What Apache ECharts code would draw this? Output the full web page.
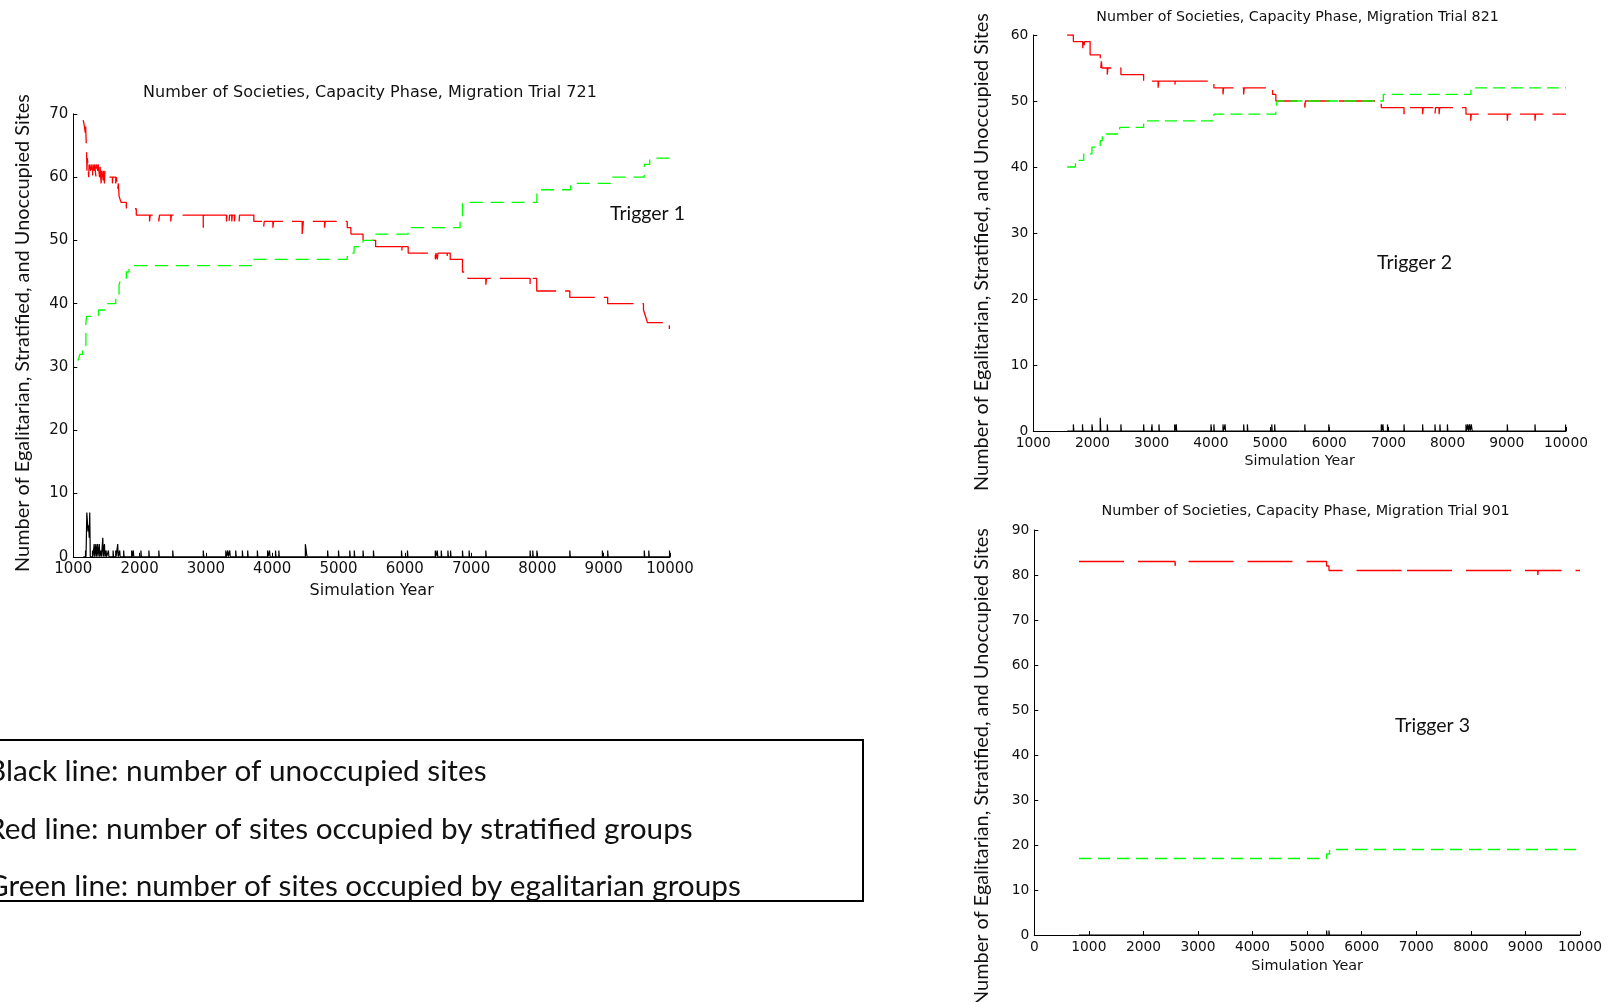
<!DOCTYPE html>
<html><head><meta charset="utf-8">
<script src="https://cdn.jsdelivr.net/npm/echarts@6.0.0/dist/echarts.min.js"></script>
<style>html,body{margin:0;padding:0;background:#fff}#c{width:1608px;height:1002px}</style>
</head><body><div id="c"></div><script>
// ---------- DATA: [year, count] change points (value holds until next point) ----------
const trial721Red = [[1150,69],[1168,68],[1180,67],[1186,68],[1200,64],[1206,61],[1212,63],[1220,62],[1232,60],[1238,62],[1262,61],[1268,62],[1290,60],[1296,62],[1316,61],[1322,62],[1342,60],[1348,62],[1370,61],[1376,62],[1396,60],[1402,62],[1420,59],[1426,61],[1446,59],[1452,61],[1470,59],[1476,61],[1490,60],[1590,59],[1596,60],[1640,59],[1650,60],[1668,58],[1680,59],[1690,57],[1720,56],[1800,55],[1950,54],[2150,53],[2160,54],[2290,53],[2300,54],[2470,53],[2480,54],[2960,52],[2972,54],[3310,53],[3318,54],[3350,53],[3358,54],[3390,53],[3398,54],[3430,53],[3438,54],[3500,53],[3508,54],[3723,53],[3870,52],[3880,53],[4010,52],[4020,53],[4452,51],[4470,53],[4790,52],[4800,53],[5132,52],[5187,51],[5370,50],[5560,49],[5950,48],[5960,49],[6051,48],[6460,47],[6470,48],[6490,47],[6500,48],[6640,47],[6650,48],[6685,47],[6870,45],[6950,44],[7222,43],[7232,44],[7890,43],[7900,44],[7990,42],[8489,41],[9060,40],[9600,39],[9630,38],[9660,37],[9990,36],[10000,36]];
const trial721Green = [[1070,31],[1100,32],[1140,33],[1190,37],[1200,38],[1380,39],[1480,40],[1640,41],[1690,43],[1720,44],[1800,45],[1840,46],[3723,47],[5132,48],[5235,49],[5370,50],[5527,51],[6051,52],[6834,53],[6870,56],[7992,58],[8502,59],[9115,60],[9612,62],[9694,63],[10000,63]];
const trial721Black = [[1150,0],[1184,1],[1192,0],[1204,7],[1222,4],[1232,5],[1240,3],[1248,7],[1256,0],[1290,1],[1296,0],[1315,2],[1322,0],[1340,2],[1347,0],[1365,2],[1372,0],[1392,2],[1399,0],[1418,1],[1425,0],[1445,3],[1452,0],[1470,2],[1477,0],[1495,1],[1502,0],[1530,1],[1537,0],[1600,1],[1607,0],[1640,1],[1646,0],[1670,2],[1677,0],[1700,1],[1706,0],[1760,1],[1766,0],[1880,1],[1888,0],[1905,1],[1912,0],[2020,1],[2027,0],[2140,1],[2147,0],[2290,1],[2297,0],[2500,1],[2507,0],[2960,1],[2968,0],[3300,1],[3308,0],[3330,1],[3337,0],[3360,1],[3367,0],[3450,1],[3457,0],[3550,1],[3557,0],[3630,1],[3637,0],[3776,1],[3783,0],[3930,1],[3937,0],[3960,1],[3967,0],[4050,1],[4057,0],[4100,1],[4107,0],[4500,2],[4525,0],[4836,1],[4843,0],[5000,1],[5007,0],[5170,1],[5177,0],[5238,1],[5245,0],[5370,1],[5377,0],[5527,1],[5534,0],[5950,1],[5957,0],[6040,1],[6047,0],[6460,1],[6467,0],[6490,1],[6497,0],[6550,1],[6557,0],[6650,1],[6657,0],[6690,1],[6697,0],[6870,1],[6877,0],[6970,1],[6977,0],[7222,1],[7229,0],[7890,1],[7897,0],[7930,1],[7937,0],[7992,1],[7999,0],[8489,1],[8496,0],[8980,1],[8987,0],[9060,1],[9067,0],[9612,1],[9619,0],[9680,1],[9687,0],[9993,1],[10000,1]];

const trial821Red = [[1572,60],[1677,59],[1835,58],[1845,59],[1855,58],[1865,59],[1960,57],[2131,56],[2140,55],[2150,56],[2160,55],[2250,54],[2260,55],[2480,54],[2864,53],[3109,52],[3119,53],[3388,52],[3398,53],[4051,52],[4205,51],[4215,52],[4554,51],[4564,52],[5043,51],[5098,50],[5587,49],[5597,50],[6879,49],[7263,48],[7273,49],[7577,48],[7587,49],[7786,48],[7796,49],[7856,48],[7866,49],[8310,48],[8390,47],[8400,48],[9008,47],[9018,48],[9476,47],[9486,48],[10000,48]];
const trial821Green = [[1572,40],[1712,41],[1852,42],[1991,43],[2131,44],[2166,45],[2459,46],[2864,47],[4051,48],[5098,49],[5119,50],[6914,51],[8394,52],[10000,52]];
const trial821Black = [[1572,0],[1677,1],[1684,0],[1831,1],[1838,0],[1991,1],[1998,0],[2131,2],[2140,0],[2250,1],[2257,0],[2480,1],[2487,0],[2864,1],[2871,0],[3004,1],[3011,0],[3123,1],[3130,0],[3388,1],[3395,0],[3415,1],[3422,0],[4002,1],[4009,0],[4051,1],[4058,0],[4205,1],[4212,0],[4240,1],[4247,0],[4554,1],[4561,0],[4617,1],[4624,0],[5029,1],[5036,0],[5078,1],[5085,0],[5587,1],[5594,0],[5992,1],[5999,0],[6879,1],[6886,0],[6907,1],[6914,0],[6984,1],[6991,0],[7263,1],[7270,0],[7577,1],[7584,0],[7786,1],[7793,0],[7870,1],[7877,0],[7996,1],[8003,0],[8310,1],[8318,0],[8340,1],[8350,0],[8370,1],[8380,0],[8400,1],[8415,0],[9008,1],[9015,0],[9476,1],[9483,0],[9993,1],[10000,1]];

const trial901Red = [[819,83],[2580,82],[2590,83],[5356,82],[5400,81],[6813,80],[6823,81],[9226,80],[9236,81],[10000,81]];
const trial901Green = [[819,17],[5356,18],[5410,19],[10000,19]];
const trial901Black = [[819,0],[5356,1],[5363,0],[5400,1],[5407,0],[10000,0]];

// ---------- TEXT ----------
const titles = ['Number of Societies, Capacity Phase, Migration Trial 721','Number of Societies, Capacity Phase, Migration Trial 821','Number of Societies, Capacity Phase, Migration Trial 901'];
const xName = 'Simulation Year';
const yName = 'Number of Egalitarian, Stratified, and Unoccupied Sites';
const triggers = ['Trigger 1','Trigger 2','Trigger 3'];
const legendLines = ['Black line: number of unoccupied sites','Red line: number of sites occupied by stratified groups','Green line: number of sites occupied by egalitarian groups'];
const xRanges = [[1000,10000],[1000,10000],[0,10000]];
const yMax = [70,60,90];

// ---------- LAYOUT ----------
const mctx = document.createElement('canvas').getContext('2d');
function fitSize(text, family, width){ mctx.font = '100px ' + family; return 100*width/mctx.measureText(text).width; }

const grids = [
  {left:73.3, top:113.8, width:596.7, height:443},
  {left:1033.3, top:35, width:532.7, height:396},
  {left:1034.3, top:530, width:545.7, height:405}
];
const tickFont = [15,13.8,13.8];
const nameFont = [16,14.2,14.4];
const nameGap = [26,23,24];
const plain = v => String(v);

const xAxes = grids.map((g,i)=>({
  type:'value', gridIndex:i, min:xRanges[i][0], max:xRanges[i][1], interval:1000,
  name:xName, nameLocation:'middle', nameGap:nameGap[i],
  nameTextStyle:{fontFamily:'DejaVu Sans', fontSize:nameFont[i], color:'#111'},
  axisLine:{show:true, onZero:false, lineStyle:{color:'#000', width:1}},
  axisTick:{show:true, inside:true, length:4, lineStyle:{color:'#000'}},
  axisLabel:{fontFamily:'DejaVu Sans', fontSize:tickFont[i], color:'#111', margin:5, formatter:plain},
  splitLine:{show:false}
}));
const yAxes = grids.map((g,i)=>({
  type:'value', gridIndex:i, min:0, max:yMax[i], interval:10,
  axisLine:{show:true, lineStyle:{color:'#000', width:1}},
  axisTick:{show:true, inside:true, length:4, lineStyle:{color:'#000'}},
  axisLabel:{fontFamily:'DejaVu Sans', fontSize:tickFont[i], color:'#111', margin:5, formatter:plain},
  splitLine:{show:false}
}));

const redDash = [[36,9],[36,9],[45,14]];
const greenDash = [[13,8],[12,6],[12,7]];
const dataSets = [
  [trial721Black, trial721Red, trial721Green],
  [trial821Black, trial821Red, trial821Green],
  [trial901Black, trial901Red, trial901Green]
];
const series = [];
dataSets.forEach((ds,i)=>{
  series.push({type:'line', xAxisIndex:i, yAxisIndex:i, step:'end', data:ds[0], showSymbol:false, symbol:'none', silent:true, z:3,
    lineStyle:{color:'#000', width:1.2}});
  series.push({type:'line', xAxisIndex:i, yAxisIndex:i, step:'end', data:ds[1], showSymbol:false, symbol:'none', silent:true, z:4,
    lineStyle:{color:'#ff0000', width:1.3, type:redDash[i]}});
  series.push({type:'line', xAxisIndex:i, yAxisIndex:i, step:'end', data:ds[2], showSymbol:false, symbol:'none', silent:true, z:5,
    lineStyle:{color:'#00ff00', width:1.3, type:greenDash[i]}});
});

const humanist = 'Lato';
const yNameSize = fitSize(yName, humanist, 478);
const trigSize = fitSize('Trigger 1', humanist, 75);
const legSize = fitSize(legendLines[2], humanist, 754);

const titlePos = [[370,93,16],[1297.5,17.4,14.2],[1305.5,511.7,14.4]];
const yNamePos = [[22.6,333],[982,252],[982,767]];
const trigPos = [[610,214],[1377,262.5],[1395,726]];
const legY = [771,829,886];

const graphics = [];
titles.forEach((t,i)=>graphics.push({type:'text', x:titlePos[i][0], y:titlePos[i][1], silent:true,
  style:{text:t, textAlign:'center', textVerticalAlign:'middle', font:titlePos[i][2]+'px "DejaVu Sans"', fill:'#111'}}));
yNamePos.forEach(p=>graphics.push({type:'text', x:p[0], y:p[1], rotation:Math.PI/2, silent:true,
  style:{text:yName, textAlign:'center', textVerticalAlign:'middle', font:yNameSize.toFixed(2)+'px '+humanist, fill:'#111'}}));
trigPos.forEach((p,i)=>graphics.push({type:'text', x:p[0], y:p[1], silent:true,
  style:{text:triggers[i], textAlign:'left', textVerticalAlign:'middle', font:trigSize.toFixed(2)+'px '+humanist, fill:'#111'}}));
graphics.push({type:'rect', silent:true, shape:{x:-10, y:740, width:873, height:161}, style:{fill:'none', stroke:'#000', lineWidth:2}});
legendLines.forEach((t,i)=>graphics.push({type:'text', x:-13, y:legY[i], silent:true,
  style:{text:t, textAlign:'left', textVerticalAlign:'middle', font:legSize.toFixed(2)+'px '+humanist, fill:'#111'}}));

const chart = echarts.init(document.getElementById('c'), null, {renderer:'canvas'});
chart.setOption({
  animation:false,
  backgroundColor:'#fff',
  grid:grids,
  xAxis:xAxes,
  yAxis:yAxes,
  series:series,
  graphic:graphics
});
</script></body></html>
